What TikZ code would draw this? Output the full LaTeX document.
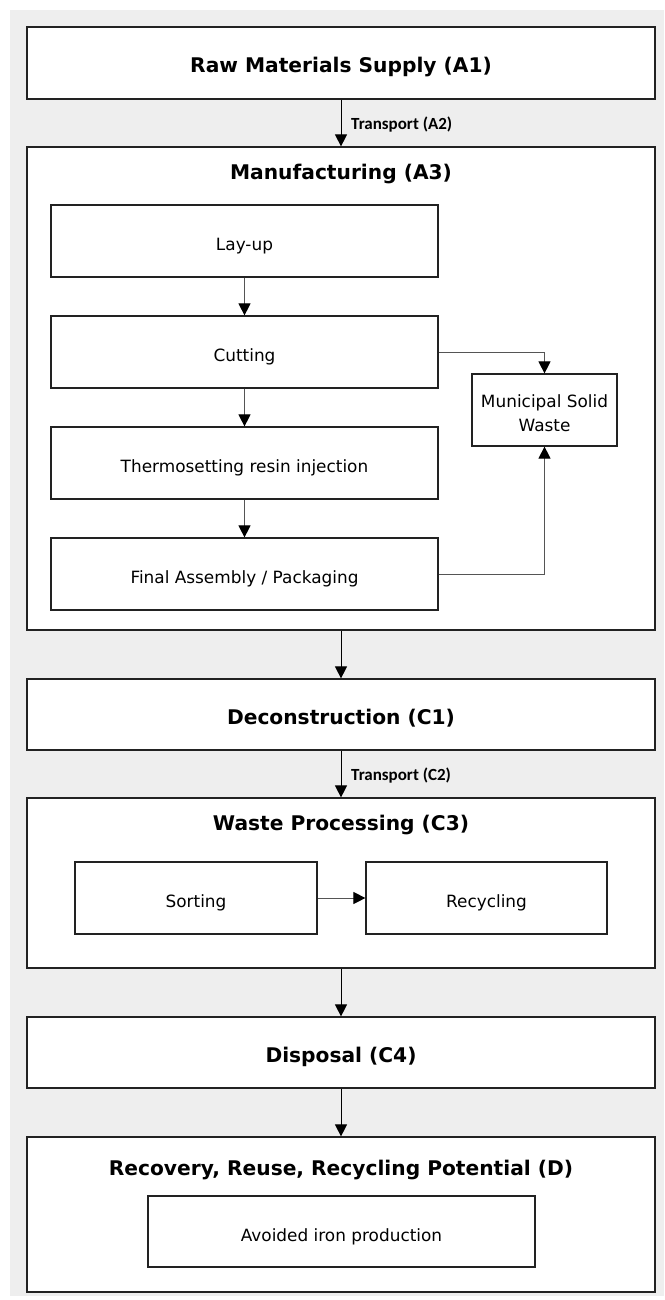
\documentclass[tikz,border=0pt]{standalone}
\usepackage{fontspec}
\setmainfont{DejaVu Sans}
\newfontfamily\lblfont{Carlito}
\usetikzlibrary{arrows.meta}
\definecolor{bggray}{HTML}{EEEEEE}
\definecolor{boxc}{HTML}{222222}
\definecolor{linec}{HTML}{555555}
\begin{document}
\begin{tikzpicture}[x=1pt,y=-1pt,
  box/.style={draw=boxc, fill=white, line width=1.2pt, inner sep=0pt, align=center, text height=19pt, text depth=0pt},
  titletext/.style={font=\fontsize{20.2}{24}\selectfont\bfseries, inner sep=0pt, text height=19pt, text depth=0pt},
  innertext/.style={font=\fontsize{16.9}{24}\selectfont},
  mainarr/.style={-{Triangle[width=12pt,length=12pt]}, line width=1pt, draw=black},
  subarr/.style={-{Triangle[width=12pt,length=12pt,black]}, line width=1pt, draw=linec},
  lbl/.style={font=\lblfont\fontsize{17}{20}\selectfont\bfseries, anchor=base west, inner sep=0pt}]
\useasboundingbox (0,0) rectangle (664,1300);
\fill[bggray] (10,10) rectangle (664,1296);

% A1
\node[box, titletext, minimum width=628pt, minimum height=72pt] (a1) at (341,63) {Raw Materials Supply (A1)};

% A3 container
\node[box, minimum width=628pt, minimum height=483pt] (a3) at (341,388.5) {};
\node[titletext] (a3t) at (341,170.5) {Manufacturing (A3)};
\node[box, innertext, minimum width=387pt, minimum height=72pt] (layup) at (244.5,241) {Lay-up};
\node[box, innertext, minimum width=387pt, minimum height=72pt] (cutting) at (244.5,352) {Cutting};
\node[box, innertext, minimum width=387pt, minimum height=72pt] (thermo) at (244.5,463) {Thermosetting resin injection};
\node[box, innertext, minimum width=387pt, minimum height=72pt] (final) at (244.5,574) {Final Assembly / Packaging};
\node[box, innertext, minimum width=145pt, minimum height=72pt, text height=42pt] (msw) at (544.5,410) {Municipal Solid\\Waste};

% C1
\node[box, titletext, minimum width=628pt, minimum height=71pt] (c1) at (341,714.5) {Deconstruction (C1)};

% C3 container
\node[box, minimum width=628pt, minimum height=170pt] (c3) at (341,883) {};
\node[titletext] (c3t) at (341,821) {Waste Processing (C3)};
\node[box, innertext, minimum width=242pt, minimum height=72pt] (sorting) at (196,898) {Sorting};
\node[box, innertext, minimum width=241pt, minimum height=72pt] (recycling) at (486.5,898) {Recycling};

% C4
\node[box, titletext, minimum width=628pt, minimum height=71pt] (c4) at (341,1052.5) {Disposal (C4)};

% D container
\node[box, minimum width=628pt, minimum height=155pt] (d) at (341,1214.5) {};
\node[titletext] (dt) at (341,1165.5) {Recovery, Reuse, Recycling Potential (D)};
\node[box, innertext, minimum width=387pt, minimum height=71pt] (avoided) at (341.5,1231.5) {Avoided iron production};

% main arrows
\draw[mainarr] (a1) -- (a3);
\draw[mainarr] (a3) -- (c1);
\draw[mainarr] (c1) -- (c3);
\draw[mainarr] (c3) -- (c4);
\draw[mainarr] (c4) -- (d);

% labels
\node[lbl] (t1) at (351,129.3) {Transport (A2)};
\node[lbl] (t2) at (351,780.5) {Transport (C2)};

% inner arrows
\draw[subarr] (layup) -- (cutting);
\draw[subarr] (cutting) -- (thermo);
\draw[subarr] (thermo) -- (final);
\draw[subarr] (cutting.east) -| (msw.north);
\draw[subarr] (final.east) -| (msw.south);
\draw[subarr] (sorting) -- (recycling);
\end{tikzpicture}
\end{document}
